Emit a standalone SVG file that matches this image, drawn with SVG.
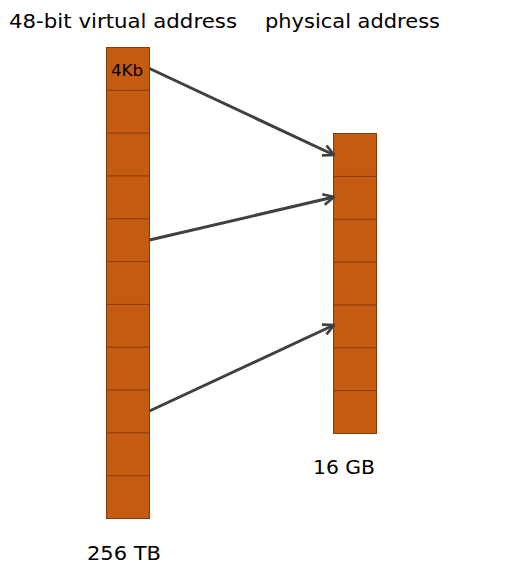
<svg xmlns="http://www.w3.org/2000/svg" width="512" height="573" viewBox="0 0 512 573">
<defs>
<style>
.cell{fill:#c55a11;stroke:#843c0c;stroke-width:1}
.div{stroke:#843c0c;stroke-width:1}
.lbl{font-family:"DejaVu Sans","Noto Sans",sans-serif;fill:#000}
.conn{stroke:#404040;stroke-width:3;fill:none;marker-end:url(#arr)}
</style>
<marker id="arr" viewBox="0 0 10 10" refX="9" refY="5" markerWidth="4.5" markerHeight="4.5" orient="auto" markerUnits="strokeWidth">
<path d="M1,1 L9,5 L1,9" fill="none" stroke="#404040" stroke-width="2"/>
</marker>
</defs>
<rect width="512" height="573" fill="#fff"/>
<text class="lbl" x="9" y="28" font-size="20" textLength="228" lengthAdjust="spacingAndGlyphs">48-bit virtual address</text>
<text class="lbl" x="265" y="28" font-size="20" textLength="175" lengthAdjust="spacingAndGlyphs">physical address</text>
<g id="virtual">
<rect class="cell" x="106.5" y="47.5" width="43" height="471"/>
<g class="div">
<line x1="106.5" x2="149.5" y1="90.3" y2="90.3"/>
<line x1="106.5" x2="149.5" y1="133.1" y2="133.1"/>
<line x1="106.5" x2="149.5" y1="175.9" y2="175.9"/>
<line x1="106.5" x2="149.5" y1="218.8" y2="218.8"/>
<line x1="106.5" x2="149.5" y1="261.6" y2="261.6"/>
<line x1="106.5" x2="149.5" y1="304.4" y2="304.4"/>
<line x1="106.5" x2="149.5" y1="347.2" y2="347.2"/>
<line x1="106.5" x2="149.5" y1="390.0" y2="390.0"/>
<line x1="106.5" x2="149.5" y1="432.8" y2="432.8"/>
<line x1="106.5" x2="149.5" y1="475.7" y2="475.7"/>
</g>
<text class="lbl" x="111" y="76" font-size="15" textLength="32" lengthAdjust="spacingAndGlyphs">4Kb</text>
<text class="lbl" x="87" y="560" font-size="20" textLength="74" lengthAdjust="spacingAndGlyphs">256 TB</text>
</g>
<g id="physical">
<rect class="cell" x="333.5" y="133.5" width="43" height="300"/>
<g class="div">
<line x1="333.5" x2="376.5" y1="176.4" y2="176.4"/>
<line x1="333.5" x2="376.5" y1="219.2" y2="219.2"/>
<line x1="333.5" x2="376.5" y1="262.1" y2="262.1"/>
<line x1="333.5" x2="376.5" y1="304.9" y2="304.9"/>
<line x1="333.5" x2="376.5" y1="347.8" y2="347.8"/>
<line x1="333.5" x2="376.5" y1="390.6" y2="390.6"/>
</g>
<text class="lbl" x="313" y="474" font-size="20" textLength="62" lengthAdjust="spacingAndGlyphs">16 GB</text>
</g>
<g id="connectors">
<line class="conn" x1="149.5" y1="68.5" x2="334" y2="155"/>
<line class="conn" x1="149.5" y1="240" x2="334" y2="197"/>
<line class="conn" x1="149.5" y1="411" x2="334" y2="325"/>
</g>
</svg>
